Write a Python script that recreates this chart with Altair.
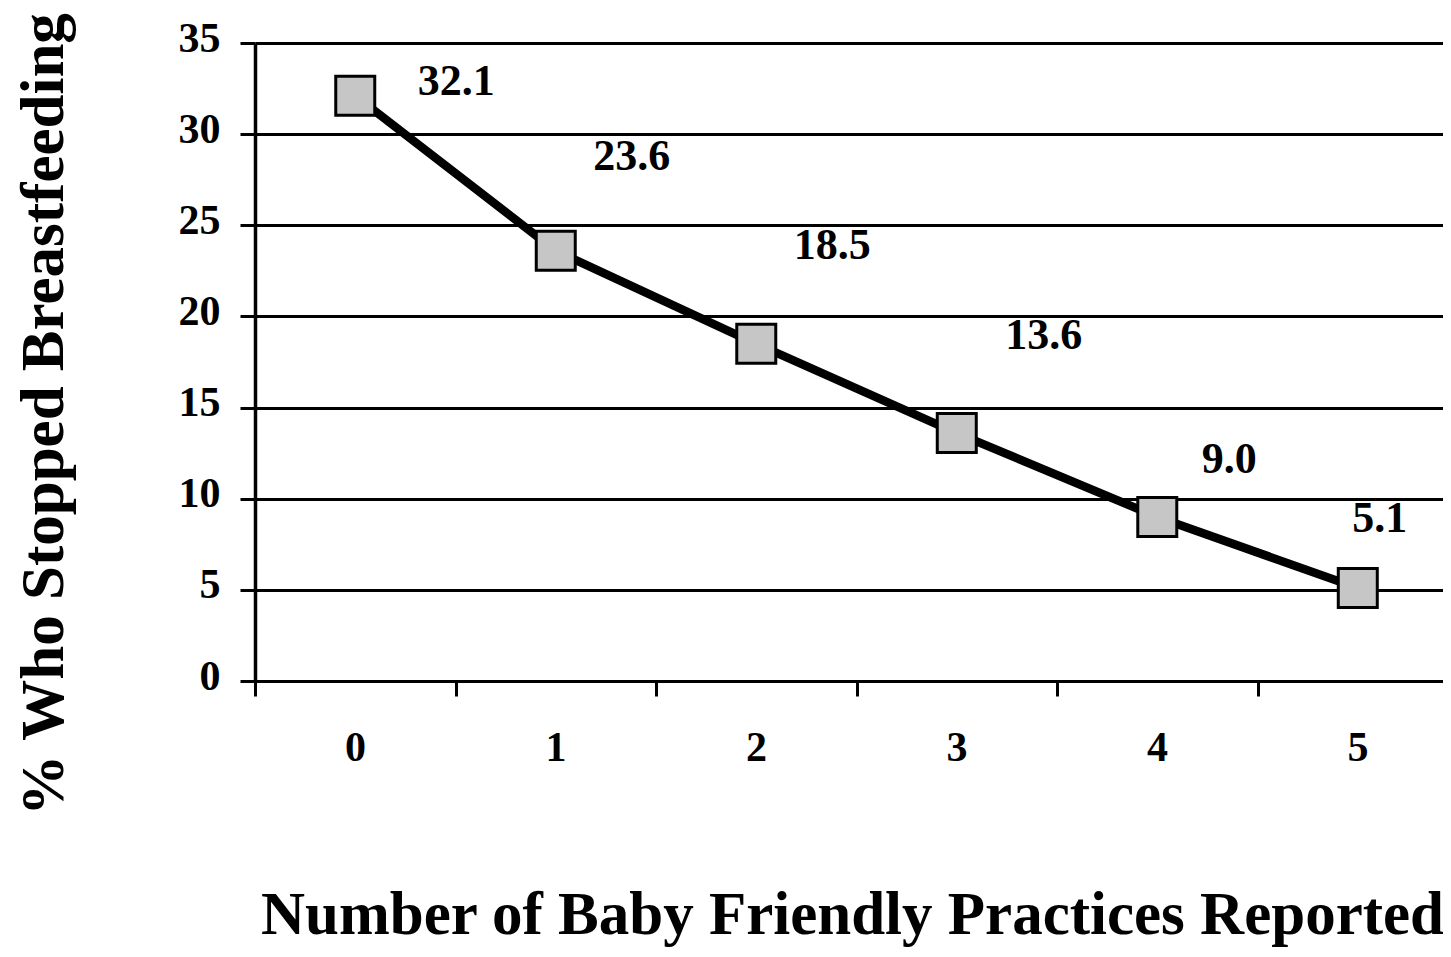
import altair as alt
import pandas as pd

# Data
practices = [0, 1, 2, 3, 4, 5]
pct_stopped = [32.1, 23.6, 18.5, 13.6, 9.0, 5.1]

# Axis ticks
y_ticks = [0, 5, 10, 15, 20, 25, 30, 35]
x_tick_bounds = [-0.5, 0.5, 1.5, 2.5, 3.5, 4.5]

df = pd.DataFrame({"practices": practices, "pct": pct_stopped})

FONT = "Liberation Serif"

x_enc = alt.X(
    "practices:Q",
    scale=alt.Scale(domain=[-0.5, 5.425], nice=False, zero=False),
    axis=alt.Axis(
        values=x_tick_bounds,
        labelExpr="format(datum.value + 0.5, 'd')",
        labelOffset=100,
        labelFlush=False,
        labelOverlap=False,
        labelBaseline="alphabetic",
        labelPadding=64,
        labelFont=FONT,
        labelFontWeight="bold",
        labelFontSize=42,
        labelColor="black",
        tickSize=15,
        tickWidth=3,
        tickColor="black",
        domain=True,
        domainColor="black",
        domainWidth=3,
        grid=False,
        title="Number of Baby Friendly Practices Reported",
        titleFont=FONT,
        titleFontWeight="bold",
        titleFontSize=61,
        titleColor="black",
        titleBaseline="alphabetic",
        titleAlign="center",
        titleAnchor="start",
        titleX=597,
        titleY=252,
    ),
)

y_enc = alt.Y(
    "pct:Q",
    scale=alt.Scale(domain=[0, 35], nice=False),
    axis=alt.Axis(
        values=y_ticks,
        labelFont=FONT,
        labelFontWeight="bold",
        labelFontSize=42,
        labelColor="black",
        labelPadding=20,
        labelAlign="right",
        labelBaseline="middle",
        labelOffset=-5,
        tickSize=15,
        tickWidth=3,
        tickColor="black",
        domain=True,
        domainColor="black",
        domainWidth=3.5,
        grid=True,
        gridColor="black",
        gridWidth=3,
        gridOpacity=1,
        title="% Who Stopped Breastfeeding",
        titleFont=FONT,
        titleFontWeight="bold",
        titleFontSize=61,
        titleColor="black",
        titleAngle=270,
        titleBaseline="alphabetic",
        titleAlign="center",
        titleAnchor="start",
        titleX=-193,
        titleY=371,
    ),
)

base = alt.Chart(df)

line = base.mark_line(color="black", strokeWidth=8.5).encode(x=x_enc, y=y_enc)

points = base.mark_square(
    size=1521, fill="#c6c6c6", stroke="black", strokeWidth=3, opacity=1
).encode(x="practices:Q", y="pct:Q")

# per-label placement offsets (style), as in the original figure
label_offsets = [(101, -1), (76, -81), (76, -85), (87, -84), (72, -44), (22, -56)]

labels = []
for i, (ddx, ddy) in enumerate(label_offsets):
    labels.append(
        base.transform_filter(alt.datum.practices == practices[i])
        .mark_text(
            dx=ddx,
            dy=ddy,
            align="center",
            baseline="alphabetic",
            font=FONT,
            fontWeight="bold",
            fontSize=44,
            color="black",
        )
        .encode(x="practices:Q", y="pct:Q", text=alt.Text("pct:Q", format=".1f"))
    )

chart = (
    alt.layer(line, points, *labels)
    .properties(
        width=1188,
        height=638,
        autosize=alt.AutoSizeParams(type="none"),
        padding={"left": 247, "top": 35, "right": 0, "bottom": 268},
        background="white",
    )
    .configure_view(stroke=None)
)

chart.save("out.html", embed_options={"renderer": "svg", "actions": False})
